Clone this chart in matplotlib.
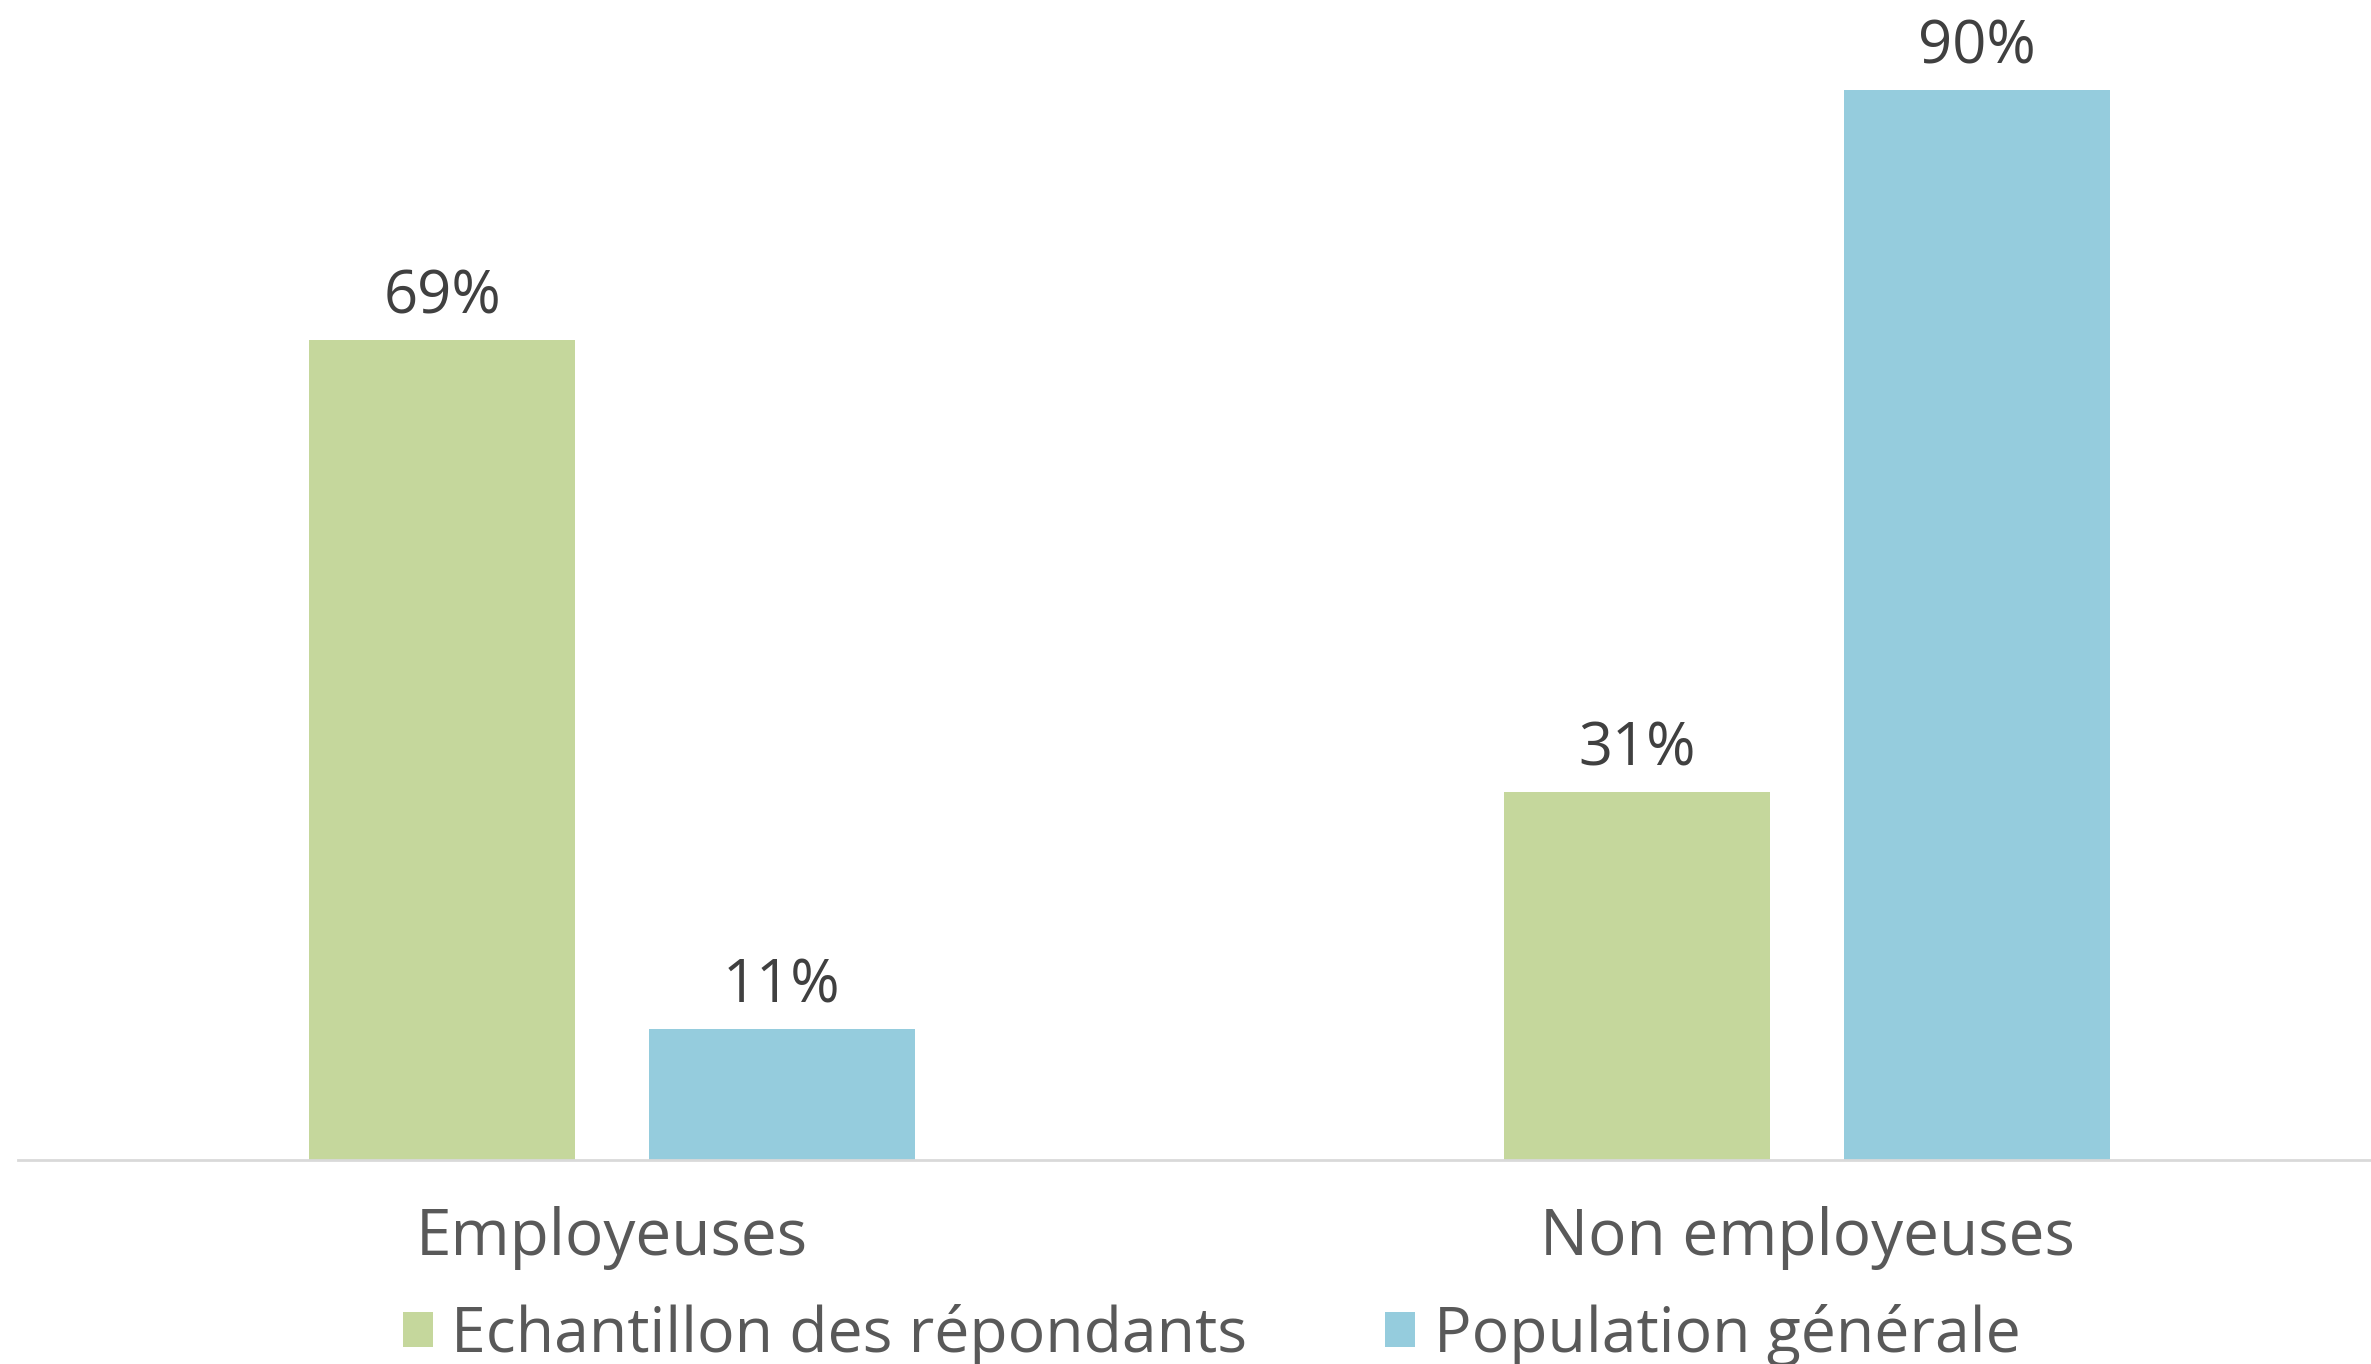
import matplotlib
matplotlib.use("Agg")
import matplotlib.pyplot as plt
import numpy as np

categories = ["Employeuses", "Non employeuses"]
series_names = ["Echantillon des répondants", "Population générale"]
echantillon = [69, 31]
population = [11, 90]
value_labels_e = ["69%", "31%"]
value_labels_p = ["11%", "90%"]

GREEN = "#C5D79C"
BLUE = "#95CCDD"

plt.rcParams['font.family'] = ['Open Sans', 'DejaVu Sans']

fig = plt.figure(figsize=(23.71, 13.64), dpi=100)
ax = fig.add_axes([18/2371, 204/1364, 1 - 18/2371, 1 - 204/1364])

x = np.arange(len(categories))
w = 0.2226
off = 0.142
b1 = ax.bar(x - off, echantillon, w, color=GREEN, label=series_names[0])
b2 = ax.bar(x + off, population, w, color=BLUE, label=series_names[1])

for bars, labels in ((b1, value_labels_e), (b2, value_labels_p)):
    for rect, lab in zip(bars, labels):
        ax.annotate(lab, (rect.get_x() + rect.get_width()/2, rect.get_height()),
                    xytext=(0, 9), textcoords="offset points",
                    ha="center", va="bottom", fontsize=43, color="#404040")

ax.set_xlim(-0.497, 1.472)
ax.set_ylim(0, 97.6)
for s in ["top", "right", "left"]:
    ax.spines[s].set_visible(False)
ax.spines["bottom"].set_color("#D9D9D9")
ax.spines["bottom"].set_linewidth(2)
ax.set_yticks([])
ax.set_xticks(x)
ax.set_xticklabels(categories, fontsize=46, color="#595959")
ax.tick_params(axis="x", length=0, pad=33)

fig.legend(handles=[b1, b2], labels=series_names, loc="center",
           bbox_to_anchor=(0.511, 0.021), ncol=2, frameon=False,
           fontsize=45, labelcolor="#595959", handlelength=0.48, handleheight=0.48,
           handletextpad=0.3, columnspacing=2.2, borderaxespad=0)

fig.savefig("out.png", dpi=100)
